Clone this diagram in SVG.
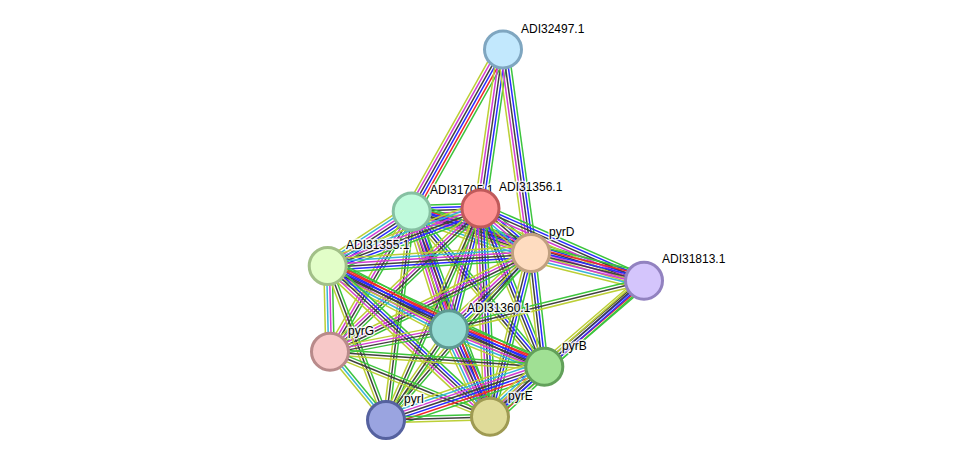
<svg xmlns="http://www.w3.org/2000/svg" xmlns:xlink="http://www.w3.org/1999/xlink" width="976" height="465" viewBox="0 0 976 465">
<style>
path{fill:none;stroke-width:1.5;vector-effect:non-scaling-stroke}
.g{stroke:#3cc43c}.r{stroke:#f02a2a}.b{stroke:#2a2aff}.k{stroke:#404040}.m{stroke:#d23cd2}.c{stroke:#38b4d8}.y{stroke:#bccf36}
.node circle{stroke-width:3}
text{font-family:"Liberation Sans",Arial,sans-serif;font-size:12px;fill:#000;stroke:#fff;stroke-width:3px;stroke-opacity:0.8;paint-order:stroke;stroke-linejoin:round}
</style>
<defs>
<g id="T7"><path class="g" d="M0-8.4H1"/><path class="r" d="M0-5.6H1"/><path class="b" d="M0-2.8H1"/><path class="k" d="M0 0H1"/><path class="m" d="M0 2.8H1"/><path class="c" d="M0 5.6H1"/><path class="y" d="M0 8.4H1"/></g>
<g id="T6a"><path class="g" d="M0-7H1"/><path class="r" d="M0-4.2H1"/><path class="b" d="M0-1.4H1"/><path class="k" d="M0 1.4H1"/><path class="m" d="M0 4.2H1"/><path class="y" d="M0 7H1"/></g>
<g id="T6b"><path class="g" d="M0-7H1"/><path class="b" d="M0-4.2H1"/><path class="k" d="M0-1.4H1"/><path class="m" d="M0 1.4H1"/><path class="c" d="M0 4.2H1"/><path class="y" d="M0 7H1"/></g>
<g id="T5"><path class="g" d="M0-5.6H1"/><path class="b" d="M0-2.8H1"/><path class="k" d="M0 0H1"/><path class="m" d="M0 2.8H1"/><path class="y" d="M0 5.6H1"/></g>
<g id="T5r"><path class="g" d="M0-5.6H1"/><path class="r" d="M0-2.8H1"/><path class="b" d="M0 0H1"/><path class="k" d="M0 2.8H1"/><path class="y" d="M0 5.6H1"/></g>
<g id="T4"><path class="g" d="M0-4.2H1"/><path class="b" d="M0-1.4H1"/><path class="k" d="M0 1.4H1"/><path class="y" d="M0 4.2H1"/></g>
<g id="T4m"><path class="g" d="M0-4.2H1"/><path class="k" d="M0-1.4H1"/><path class="m" d="M0 1.4H1"/><path class="y" d="M0 4.2H1"/></g>
<g id="T4c"><path class="g" d="M0-4.2H1"/><path class="m" d="M0-1.4H1"/><path class="c" d="M0 1.4H1"/><path class="y" d="M0 4.2H1"/></g>
<g id="T3"><path class="g" d="M0-2.8H1"/><path class="k" d="M0 0H1"/><path class="y" d="M0 2.8H1"/></g>
<g id="T3c"><path class="g" d="M0-2.8H1"/><path class="c" d="M0 0H1"/><path class="y" d="M0 2.8H1"/></g>
</defs>
<g id="connectors">
<use href="#T6a" transform="matrix(-91 162 -0.872 -0.490 503 49)"/>
<use href="#T5" transform="matrix(-23 160 -0.990 -0.142 503 49)"/>
<use href="#T5" transform="matrix(28 204 -0.991 0.136 503 49)"/>
<use href="#T5" transform="matrix(68 -2 0.029 1 412 211)"/>
<use href="#T7" transform="matrix(119 42 -0.333 0.943 412 211)"/>
<use href="#T6b" transform="matrix(-84 55 -0.548 -0.837 412 211)"/>
<use href="#T6a" transform="matrix(37 118 -0.954 0.299 412 211)"/>
<use href="#T4m" transform="matrix(-82 141 -0.864 -0.503 412 211)"/>
<use href="#T4" transform="matrix(132 156 -0.763 0.646 412 211)"/>
<use href="#T3" transform="matrix(-26 209 -0.992 -0.123 412 211)"/>
<use href="#T5" transform="matrix(78 206 -0.935 0.354 412 211)"/>
<use href="#T5" transform="matrix(232 70 -0.289 0.957 412 211)"/>
<use href="#T6b" transform="matrix(51 44 -0.653 0.757 480 209)"/>
<use href="#T6b" transform="matrix(-152 57 -0.351 -0.937 480 209)"/>
<use href="#T5" transform="matrix(-31 120 -0.968 -0.250 480 209)"/>
<use href="#T4m" transform="matrix(-150 143 -0.690 -0.724 480 209)"/>
<use href="#T4" transform="matrix(64 158 -0.927 0.375 480 209)"/>
<use href="#T3" transform="matrix(-94 211 -0.913 -0.407 480 209)"/>
<use href="#T5" transform="matrix(10 208 -0.999 0.048 480 209)"/>
<use href="#T5" transform="matrix(164 72 -0.402 0.916 480 209)"/>
<use href="#T7" transform="matrix(113 28 -0.241 0.971 531 253)"/>
<use href="#T6b" transform="matrix(-203 13 -0.064 -0.998 531 253)"/>
<use href="#T5" transform="matrix(-82 76 -0.680 -0.733 531 253)"/>
<use href="#T4m" transform="matrix(-201 99 -0.442 -0.897 531 253)"/>
<use href="#T4" transform="matrix(13 114 -0.994 0.113 531 253)"/>
<use href="#T3" transform="matrix(-145 167 -0.755 -0.656 531 253)"/>
<use href="#T4" transform="matrix(-41 164 -0.970 -0.243 531 253)"/>
<use href="#T7" transform="matrix(121 63 -0.462 0.887 328 266)"/>
<use href="#T4c" transform="matrix(2 86 -1 0.023 328 266)"/>
<use href="#T5r" transform="matrix(216 101 -0.424 0.906 328 266)"/>
<use href="#T3" transform="matrix(58 154 -0.936 0.352 328 266)"/>
<use href="#T5" transform="matrix(162 151 -0.682 0.731 328 266)"/>
<use href="#T4m" transform="matrix(-119 23 -0.190 -0.982 449 329)"/>
<use href="#T7" transform="matrix(95 38 -0.371 0.928 449 329)"/>
<use href="#T3" transform="matrix(-63 91 -0.822 -0.569 449 329)"/>
<use href="#T7" transform="matrix(41 88 -0.906 0.422 449 329)"/>
<use href="#T3" transform="matrix(195 -48 0.239 0.971 449 329)"/>
<use href="#T3" transform="matrix(214 15 -0.070 0.998 330 352)"/>
<use href="#T3c" transform="matrix(56 68 -0.772 0.636 330 352)"/>
<use href="#T3" transform="matrix(160 65 -0.376 0.926 330 352)"/>
<use href="#T7" transform="matrix(-158 53 -0.318 -0.948 544 367)"/>
<use href="#T7" transform="matrix(-54 50 -0.679 -0.733 544 367)"/>
<use href="#T3" transform="matrix(104 -3 0.029 1 386 420)"/>
<use href="#T5r" transform="matrix(-100 86 -0.652 -0.758 644 281)"/>
<use href="#T4" transform="matrix(-154 136 -0.662 -0.749 644 281)"/>
</g>
<g id="node-ADI32497_1" class="node"><circle cx="503" cy="49.5" r="18.5" fill="#c2e8fd" stroke="#7fa6c0"/><text x="521" y="32.5">ADI32497.1</text></g>
<g id="node-ADI31705_1" class="node"><circle cx="411.7" cy="211.5" r="18.5" fill="#c0fadc" stroke="#86c0a2"/><text x="430" y="194">ADI31705.1</text></g>
<g id="node-ADI31356_1" class="node"><circle cx="480.5" cy="208.5" r="18.5" fill="#ff9595" stroke="#c05a5a"/><text x="499" y="191">ADI31356.1</text></g>
<g id="node-pyrD" class="node"><circle cx="531" cy="253" r="18.5" fill="#fedcc0" stroke="#c0a080"/><text x="549" y="236">pyrD</text></g>
<g id="node-ADI31813_1" class="node"><circle cx="644" cy="280.7" r="18.5" fill="#d4c5fc" stroke="#9282c0"/><text x="662" y="263">ADI31813.1</text></g>
<g id="node-ADI31355_1" class="node"><circle cx="327.7" cy="266" r="18.5" fill="#e2fec8" stroke="#a2c088"/><text x="346" y="249">ADI31355.1</text></g>
<g id="node-ADI31360_1" class="node"><circle cx="449" cy="329.3" r="18.5" fill="#97ddd4" stroke="#5e9a92"/><text x="467" y="312">ADI31360.1</text></g>
<g id="node-pyrG" class="node"><circle cx="330" cy="351.7" r="18.5" fill="#f7c8c8" stroke="#b88a8a"/><text x="348" y="334.5">pyrG</text></g>
<g id="node-pyrB" class="node"><circle cx="544.3" cy="366.7" r="18.5" fill="#a0e094" stroke="#62a05a"/><text x="562" y="349.5">pyrB</text></g>
<g id="node-pyrI" class="node"><circle cx="386" cy="420" r="18.5" fill="#9aa4e0" stroke="#55619f"/><text x="404" y="402.5">pyrI</text></g>
<g id="node-pyrE" class="node"><circle cx="490" cy="416.7" r="18.5" fill="#dfdb98" stroke="#9e9a52"/><text x="508" y="399.5">pyrE</text></g>
</svg>
